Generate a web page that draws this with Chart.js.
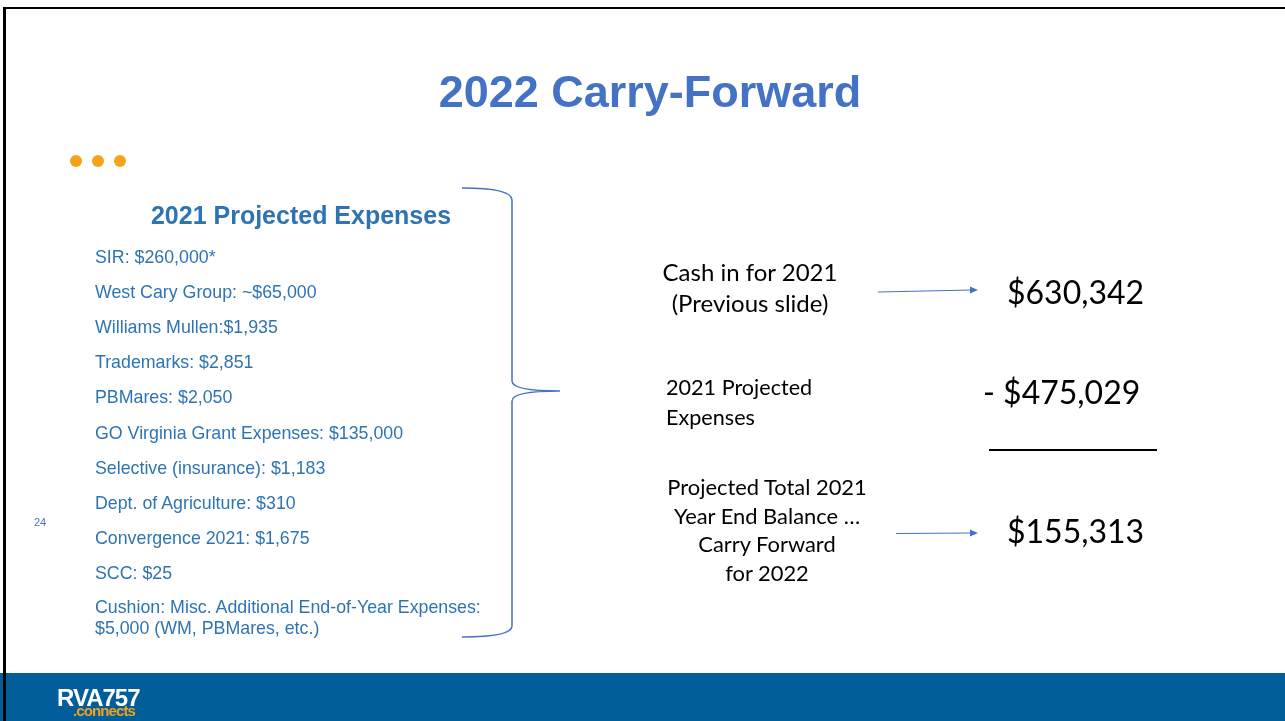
<!DOCTYPE html>
<html>
<head>
<meta charset="utf-8">
<script src="https://cdn.jsdelivr.net/npm/chart.js@4.4.1/dist/chart.umd.min.js"></script>
<style>
  html, body { margin: 0; padding: 0; background: #fff; }
  #slide { position: relative; width: 1285px; height: 721px; overflow: hidden; }
  #decor { position: absolute; left: 0; top: 0; }
  .t { position: absolute; white-space: nowrap; line-height: 1; }
  .vc { transform: translateY(-50%); }
  .hc { transform: translate(-50%, -50%); text-align: center; }
  #title { font: bold 45px "Liberation Sans", Arial, sans-serif; color: #4472C4; }
  #subhead { font: bold 25px "Liberation Sans", Arial, sans-serif; color: #2E74B5; }
  .item { font: 17.8px "Liberation Sans", Arial, sans-serif; color: #2E74B5; line-height: 21px; }
  .cal { font-family: Lato, "Open Sans", sans-serif; color: #000; }
  .big { font-size: 32px; }
  #footer { position: absolute; left: 0; top: 673px; width: 1285px; height: 48px; background: #025E9B; }
</style>
</head>
<body>
<div id="slide">
  <div id="footer"></div>
  <canvas id="decor" width="1285" height="721"></canvas>
  <div id="texts"></div>
</div>
<script>
// Donnees de la diapo
const titre = '2022 Carry-Forward';
const sousTitre = '2021 Projected Expenses';
const depenses = [
  'SIR: $260,000*',
  'West Cary Group: ~$65,000',
  'Williams Mullen:$1,935',
  'Trademarks: $2,851',
  'PBMares: $2,050',
  'GO Virginia Grant Expenses: $135,000',
  'Selective (insurance): $1,183',
  'Dept. of Agriculture: $310',
  'Convergence 2021: $1,675',
  'SCC: $25',
  'Cushion: Misc. Additional End-of-Year Expenses:<br>$5,000 (WM, PBMares, etc.)'
];
const libellesResume = ['Cash in for 2021<br>(Previous slide)', '2021 Projected<br>Expenses', 'Projected Total 2021<br>Year End Balance …<br>Carry Forward<br>for 2022'];
const valeursResume = [630342, 475029, 155313];
const numeroPage = '24';

function fmt(v){
    return '$' + v.toLocaleString('en-US');
}

var html = '';
html += '<div class="t hc" id="title" style="left:650px;top:92px">' + titre + '</div>';
html += '<div class="t hc" id="subhead" style="left:301px;top:215px">' + sousTitre + '</div>';
var yItem = 257;
for (var i in depenses){
    var y = yItem + i * 35.1;
    if (i == depenses.length - 1) y += 10;
    html += '<div class="t item vc" style="left:95px;top:' + y + 'px">' + depenses[i] + '</div>';
}
html += '<div class="t vc" style="left:34px;top:522px;font:11px \'Liberation Sans\',Arial;color:#4472C4">' + numeroPage + '</div>';

// Resume a droite
html += '<div class="t cal hc" style="left:750px;top:287px;font-size:24px;line-height:31px">' + libellesResume[0] + '</div>';
html += '<div class="t cal vc" style="left:666px;top:402px;font-size:21.6px;line-height:30px;text-align:left">' + libellesResume[1] + '</div>';
html += '<div class="t cal hc" style="left:767px;top:530px;font-size:21.9px;line-height:28.5px">' + libellesResume[2] + '</div>';
html += '<div class="t cal big vc" style="left:1007px;top:292px">' + fmt(valeursResume[0]) + '</div>';
html += '<div class="t cal big vc" style="left:983px;top:392px">- ' + fmt(valeursResume[1]) + '</div>';
html += '<div class="t cal big vc" style="left:1007px;top:531px">' + fmt(valeursResume[2]) + '</div>';

// Logo
html += '<div class="t" style="left:57px;top:684px;font:bold 24px \'Liberation Sans Narrow\',\'Liberation Sans\';color:#fff;letter-spacing:-1px">RVA757</div>';
html += '<div class="t" style="left:73px;top:702px;font:bold 15px \'Liberation Sans\';color:#F0A21E;letter-spacing:-0.9px">.connects</div>';
document.getElementById('texts').innerHTML = html;

// Decor (bordures, points, accolade, fleches) dessine par un plugin Chart.js
const decorPlugin = {
    id: 'decor',
    afterDraw(chart){
        var ctx = chart.ctx;
        ctx.save();
        // bordures
        ctx.fillStyle = '#000';
        ctx.fillRect(3, 7, 1282, 2);
        ctx.fillRect(3, 7, 3, 714);
        // points orange
        ctx.fillStyle = '#F7A21B';
        [76, 98, 120].forEach(function(x){
            ctx.beginPath();
            ctx.arc(x, 161, 6, 0, Math.PI * 2);
            ctx.fill();
        });
        // accolade
        ctx.strokeStyle = '#4472C4';
        ctx.lineWidth = 1.5;
        ctx.beginPath();
        ctx.moveTo(462, 188);
        ctx.quadraticCurveTo(512, 188, 512, 200);
        ctx.lineTo(512, 381);
        ctx.quadraticCurveTo(512, 391, 560, 391);
        ctx.quadraticCurveTo(512, 391, 512, 401);
        ctx.lineTo(512, 626);
        ctx.quadraticCurveTo(512, 637, 462, 637);
        ctx.stroke();
        // fleches
        function fleche(x1, y1, x2, y2){
            ctx.lineWidth = 1.2;
            ctx.beginPath();
            ctx.moveTo(x1, y1);
            ctx.lineTo(x2 - 6, y2);
            ctx.stroke();
            ctx.fillStyle = '#4472C4';
            ctx.beginPath();
            ctx.moveTo(x2, y2);
            ctx.lineTo(x2 - 8, y2 - 3.5);
            ctx.lineTo(x2 - 8, y2 + 3.5);
            ctx.closePath();
            ctx.fill();
        }
        fleche(878, 292, 978, 290);
        fleche(896, 533.5, 978, 533);
        // trait de soustraction
        ctx.fillStyle = '#000';
        ctx.fillRect(989, 449, 168, 2);
        ctx.restore();
    }
};

window.onload = function() {
    var ctx = document.getElementById('decor').getContext('2d');
    var chartDecor = new Chart(ctx, {
        type: 'line',
        data: { labels: depenses.map(function(d, i){ return i; }), datasets: [] },
        options: {
            responsive: false,
            animation: false,
            layout: { padding: 0 },
            scales: { x: { display: false }, y: { display: false } },
            plugins: { legend: { display: false }, tooltip: { enabled: false } }
        },
        plugins: [decorPlugin]
    });
};
</script>
</body>
</html>
